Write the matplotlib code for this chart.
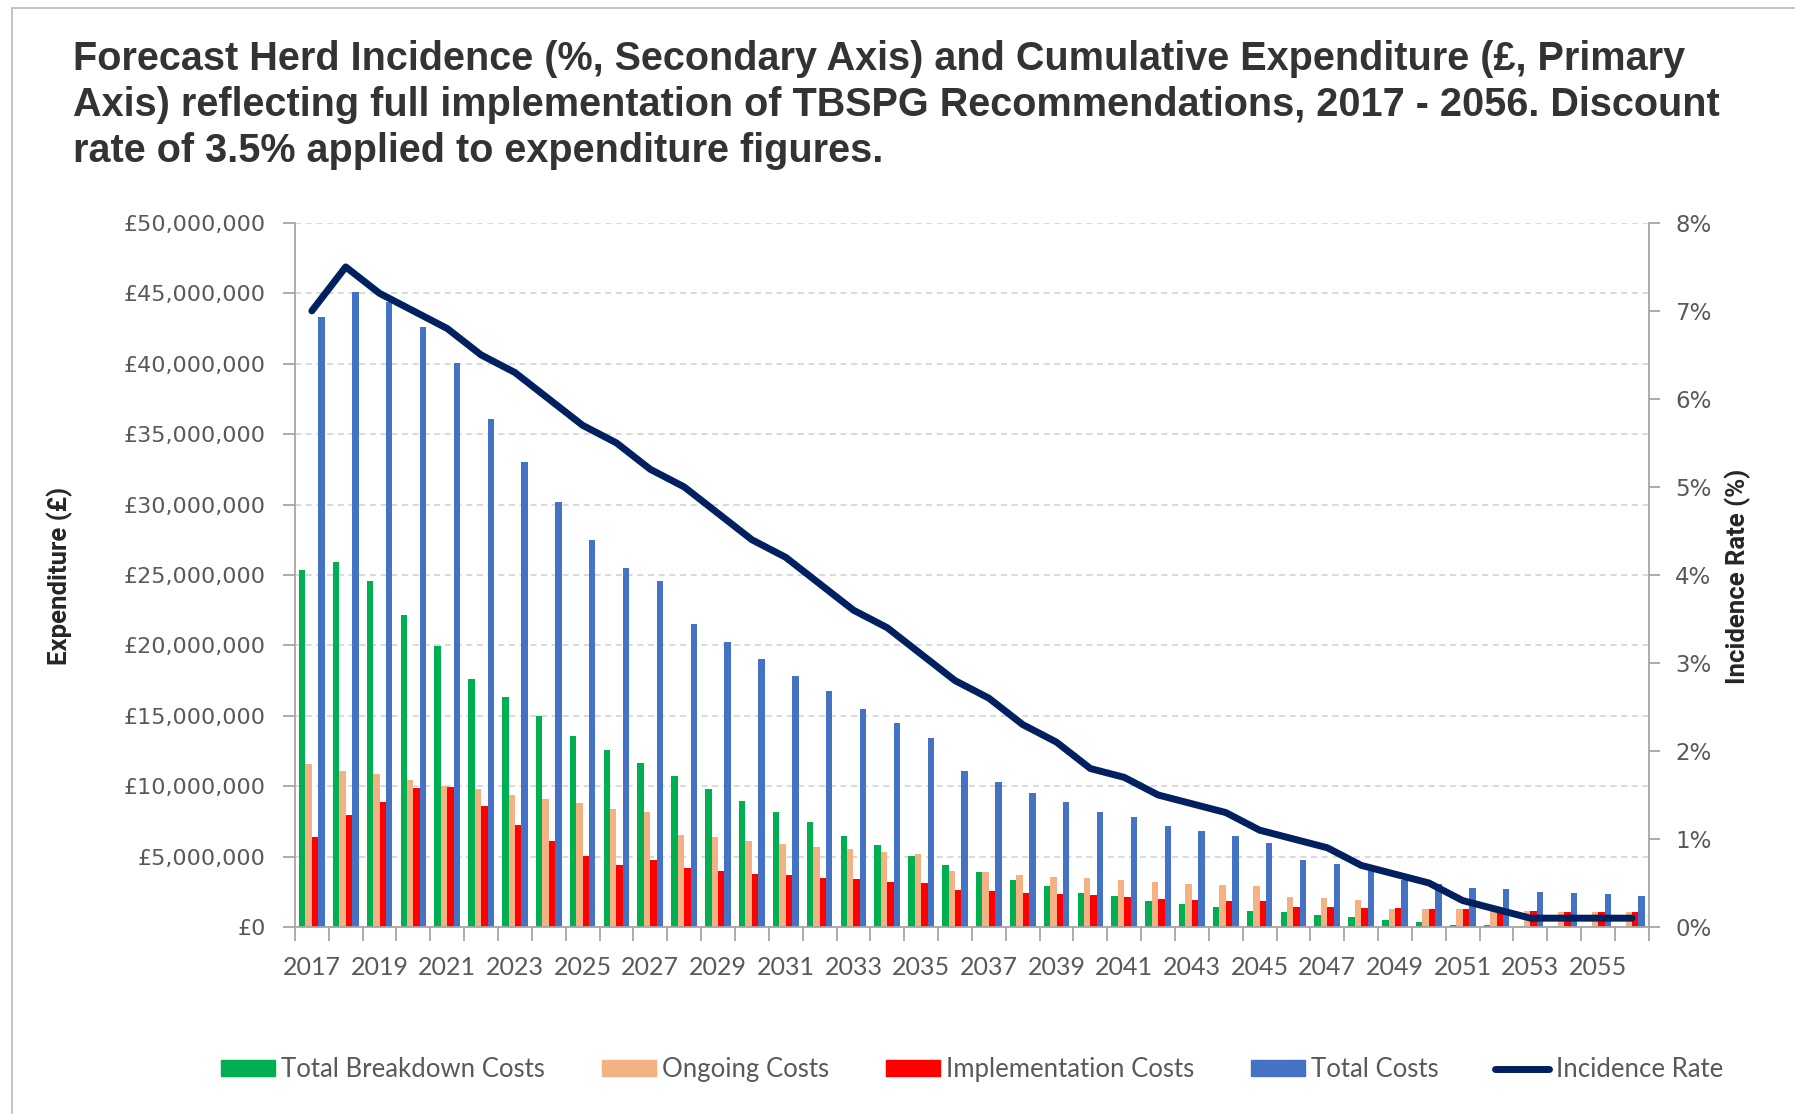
import matplotlib.pyplot as plt
from matplotlib.lines import Line2D
from matplotlib.patches import Patch
from matplotlib.ticker import FuncFormatter
import numpy as np

years = list(range(2017, 2057))

# expenditure by year, £ millions (discounted at 3.5%)
breakdown = [25.32, 25.92, 24.58, 22.17, 19.97, 17.63, 16.32, 14.95, 13.58, 12.54,
             11.61, 10.70, 9.77, 8.96, 8.13, 7.46, 6.49, 5.79, 5.05, 4.38,
             3.88, 3.31, 2.91, 2.44, 2.22, 1.82, 1.63, 1.44, 1.16, 1.06,
             0.87, 0.68, 0.47, 0.35, 0.17, 0.17, 0.07, 0.07, 0.0, 0.0]
ongoing = [11.60, 11.10, 10.84, 10.43, 10.03, 9.77, 9.36, 9.10, 8.80, 8.39,
           8.19, 6.56, 6.39, 6.12, 5.89, 5.69, 5.52, 5.32, 5.15, 3.98,
           3.88, 3.68, 3.55, 3.48, 3.37, 3.16, 3.07, 2.97, 2.88, 2.12,
           2.03, 1.93, 1.25, 1.25, 1.25, 1.20, 1.16, 1.04, 1.04, 1.04]
implementation = [6.39, 7.96, 8.90, 9.87, 9.97, 8.60, 7.26, 6.12, 5.05, 4.38,
                  4.72, 4.18, 3.98, 3.78, 3.71, 3.48, 3.38, 3.21, 3.11, 2.64,
                  2.54, 2.44, 2.34, 2.24, 2.12, 2.00, 1.91, 1.82, 1.82, 1.44,
                  1.44, 1.34, 1.34, 1.25, 1.25, 1.20, 1.16, 1.04, 1.04, 1.04]
total = [43.34, 45.08, 44.35, 42.58, 40.07, 36.05, 33.04, 30.17, 27.46, 25.52,
         24.58, 21.50, 20.23, 19.00, 17.83, 16.79, 15.48, 14.48, 13.41, 11.10,
         10.33, 9.53, 8.86, 8.19, 7.78, 7.19, 6.82, 6.44, 5.97, 4.72,
         4.50, 3.96, 3.37, 3.07, 2.78, 2.69, 2.50, 2.41, 2.31, 2.22]

# herd incidence, %
incidence = [7.0, 7.5, 7.2, 7.0, 6.8, 6.5, 6.3, 6.0, 5.7, 5.5,
             5.2, 5.0, 4.7, 4.4, 4.2, 3.9, 3.6, 3.4, 3.1, 2.8,
             2.6, 2.3, 2.1, 1.8, 1.7, 1.5, 1.4, 1.3, 1.1, 1.0,
             0.9, 0.7, 0.6, 0.5, 0.3, 0.2, 0.1, 0.1, 0.1, 0.1]

series = [('Total Breakdown Costs', breakdown, '#00B050'),
          ('Ongoing Costs', ongoing, '#F4B183'),
          ('Implementation Costs', implementation, '#FF0000'),
          ('Total Costs', total, '#4472C4')]
line_color = '#002060'
grey = '#595959'
axis_grey = '#A6A6A6'

fig = plt.figure(figsize=(17.95, 11.14), dpi=100)
ax = fig.add_axes([0.1643, 0.1679, 0.7543, 0.632])

x = np.arange(len(years))
w = 0.19
for i, (name, vals, col) in enumerate(series):
    ax.bar(x + (i - 1.5) * w, np.array(vals) * 1e6, w, color=col, zorder=2)

ax.set_xlim(-0.5, len(years) - 0.5)
ax.set_ylim(0, 50e6)
ax.set_yticks(np.arange(0, 50e6 + 1, 5e6))
ax.yaxis.set_major_formatter(FuncFormatter(lambda v, p: '£{:,.0f}'.format(v)))
ax.grid(axis='y', color='#D0D0D0', linestyle=(0, (4, 3)), linewidth=1.1, zorder=0)
ax.set_axisbelow(True)

# ticks between categories, labels on every other year
ax.set_xticks(np.arange(-0.5, len(years), 1))
ax.set_xticklabels([])
ax.set_xticks(x[::2], minor=True)
ax.set_xticklabels([str(y) for y in years[::2]], minor=True, family='Lato',
                   fontsize=18, color=grey)
ax.tick_params(axis='x', which='major', length=10, color=axis_grey, width=1.3)
ax.tick_params(axis='x', which='minor', length=0, pad=21)
ax.tick_params(axis='y', length=9, color=axis_grey, width=1.3, pad=12,
               labelsize=16, labelcolor=grey)

for s in ['top', 'right']:
    ax.spines[s].set_visible(False)
for s in ['left', 'bottom']:
    ax.spines[s].set_color(axis_grey)
    ax.spines[s].set_linewidth(1.3)

ax2 = ax.twinx()
ax2.plot(x, incidence, color=line_color, lw=5, solid_capstyle='round',
         solid_joinstyle='round', zorder=3)
ax2.set_ylim(0, 8)
ax2.set_yticks(range(0, 9))
ax2.yaxis.set_major_formatter(FuncFormatter(lambda v, p: '{:.0f}%'.format(v)))
ax2.tick_params(axis='y', length=8, color=axis_grey, width=1.3, pad=11,
                labelsize=16.5, labelcolor=grey)
for s in ['top', 'left', 'bottom']:
    ax2.spines[s].set_visible(False)
ax2.spines['right'].set_color(axis_grey)
ax2.spines['right'].set_linewidth(1.3)

fig.text(0.0334, 0.483, 'Expenditure (£)', rotation=90, ha='center', va='center',
         fontsize=18.5, fontweight='bold', family='Roboto', color='#262626')
fig.text(0.968, 0.483, 'Incidence Rate (%)', rotation=90, ha='center', va='center',
         fontsize=18.5, fontweight='bold', family='Roboto', color='#262626')

title_lines = ['Forecast Herd Incidence (%, Secondary Axis) and Cumulative Expenditure (£, Primary',
               'Axis) reflecting full implementation of TBSPG Recommendations, 2017 - 2056. Discount',
               'rate of 3.5% applied to expenditure figures.']
for i, t in enumerate(title_lines):
    fig.text(0.0407, 1 - (70.5 + i * 45.5) / 1114, t, ha='left', va='baseline',
             fontsize=28.5, fontweight='bold', family='Liberation Sans', color='#333333')

handles = [Patch(color=c) for _, _, c in series]
handles.append(Line2D([0], [0], color=line_color, lw=5, solid_capstyle='round'))
labels = [n for n, _, _ in series] + ['Incidence Rate']
leg = fig.legend(handles, labels, ncol=5, loc='center', bbox_to_anchor=(0.5415, 0.040),
                 frameon=False, prop={'family': 'Lato', 'size': 18.5},
                 handlelength=2.1, handleheight=0.55, handletextpad=0.25, columnspacing=2.2)
for t in leg.get_texts():
    t.set_color(grey)

# chart frame, top and left edges
fig.add_artist(Line2D([12 / 1795, 1], [1 - 8 / 1114, 1 - 8 / 1114], color='#BFBFBF', lw=1.3))
fig.add_artist(Line2D([12 / 1795, 12 / 1795], [0, 1 - 8 / 1114], color='#BFBFBF', lw=1.3))

fig.savefig('out.png', dpi=100)
